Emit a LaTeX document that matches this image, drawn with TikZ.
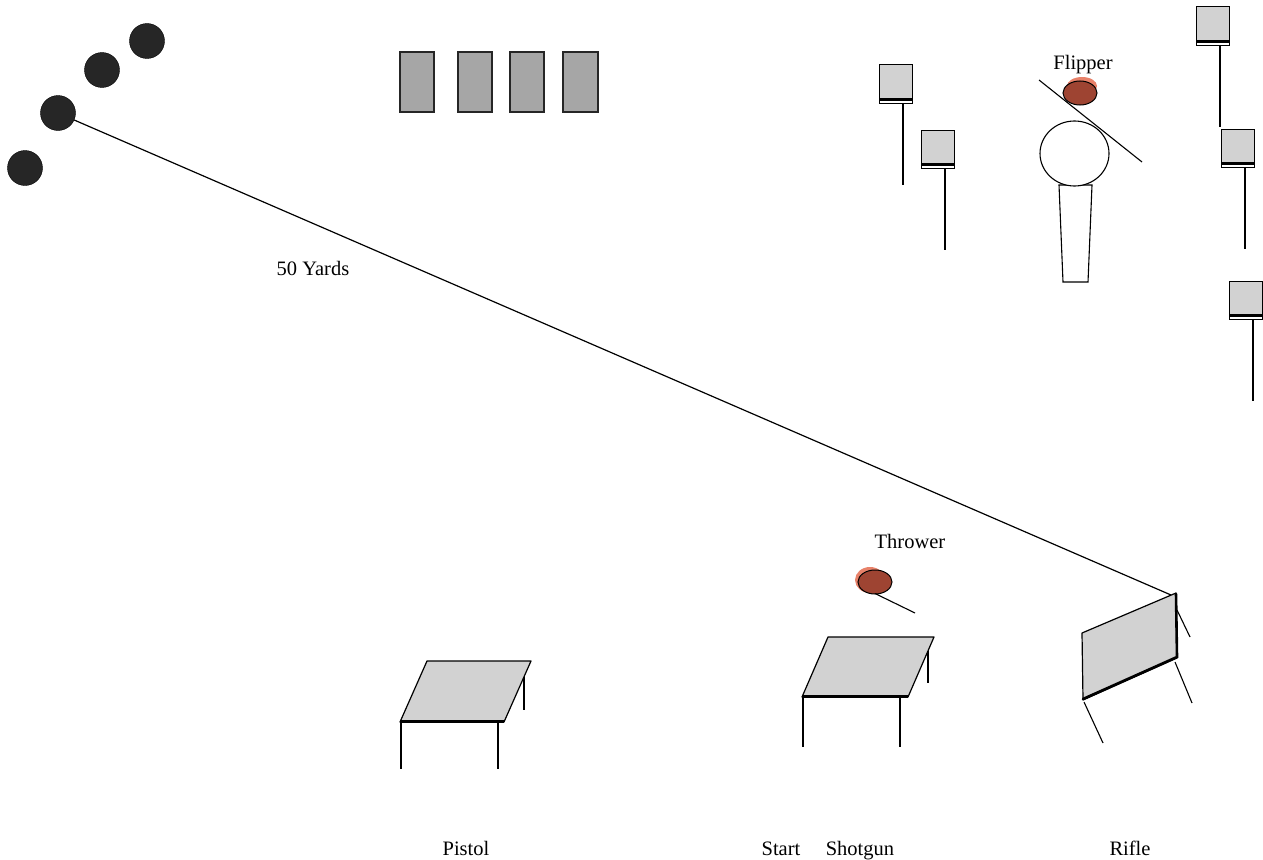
\documentclass[tikz,border=0pt]{standalone}
\usepackage{fontspec}
\setmainfont{Liberation Serif}
\usetikzlibrary{shapes.geometric}
\definecolor{clay}{RGB}{158,68,50}
\definecolor{clayhalo}{RGB}{228,108,80}
\begin{document}
\begin{tikzpicture}[x=1pt,y=-1pt,
  lbl/.style={font=\fontsize{20.5}{24}\selectfont, anchor=base, inner sep=0pt},
  dot/.style={circle, fill=black!85, draw=black, minimum width=34pt, minimum height=35pt, inner sep=0pt},
  panel/.style={fill=gray!70, draw=black!85, line width=1.8pt},
  top/.style={fill=gray!35, draw=black, line width=1.2pt, line join=round},
  leg/.style={draw=black, line width=1.1pt},
  disc/.style={ellipse, fill=clay, draw=black, line width=1pt, minimum width=34pt, minimum height=24pt, inner sep=0pt},
  halo/.style={fill=clayhalo, opacity=0.85},
  pics/target/.style={code={
    \draw[fill=gray!35, line width=1pt] (0,0) rectangle (33,34);
    \draw[line width=0.8pt] (0,34) rectangle (33,38);
    \draw[line width=2.6pt] (0,34.5) -- (33,34.5);
    \draw[line width=2.6pt] (24,38) -- (24,120);
  }}]
\useasboundingbox (0,0) rectangle (1263,859);

% steel plates
\node[dot] (d1) at (147,41) {};
\node[dot] (d2) at (102,70) {};
\node[dot] (d3) at (58,113) {};
\node[dot] (d4) at (25,168) {};

% cardboard targets
\draw[panel] (400,52) rectangle (434,112);
\draw[panel] (458,52) rectangle (492,112);
\draw[panel] (510,52) rectangle (544,112);
\draw[panel] (563,52) rectangle (598,112);

% targets on posts
\pic at (879,65) {target};
\pic at (921,130) {target};
\pic at (1196,7) {target};
\pic at (1221,129) {target};
\pic at (1229,281) {target};

% flipper
\draw[line width=1.1pt] (1059,185) -- (1092,185) -- (1088,282) -- (1063,282) -- cycle;
\draw[fill=white, line width=1.1pt] (1074.5,153.5) ellipse [x radius=34.5, y radius=32.5];
\fill[halo] (1082,86) ellipse [x radius=15, y radius=9];
\node[disc] (fd) at (1080,93) {};
\coordinate (fa) at (1039,80);
\coordinate (fb) at (1142,162);
\draw[line width=1.1pt] (fa) -- (fb);
\node[lbl] (flip) at (1083,70) {Flipper};

% thrower
\fill[halo] (870,580) ellipse [x radius=15, y radius=13];
\node[disc] (td) at (875,582) {};
\coordinate (tl) at (915,613);
\draw[line width=1.1pt] (td.south) ++(0,-1) -- (tl);
\node[lbl] (thr) at (910,548) {Thrower};

% pistol table
\draw[leg] (524,664) -- (524,710);
\draw[top] (427,661) -- (531,661) -- (504,722) -- (400,722) -- cycle;
\draw[line width=2.4pt] (400,721.5) -- (504,721.5);
\draw[leg] (401,722) -- (401,769);
\draw[leg] (498,722) -- (498,769);

% shotgun table
\draw[leg] (928,650) -- (928,683);
\draw[top] (828,637) -- (934,637) -- (908,697) -- (802,697) -- cycle;
\draw[line width=2.4pt] (802,696.5) -- (908,696.5);
\draw[leg] (803,697) -- (803,747);
\draw[leg] (900,697) -- (900,747);

% rifle bench
\draw[leg] (1177,610) -- (1190,637);
\draw[leg] (1175,662) -- (1192,703);
\draw[top] (1082,633) -- (1176,593) -- (1177,658) -- (1083,700) -- cycle;
\draw[line width=2.6pt, line cap=round] (1083,699) -- (1177,657) -- (1176,594);
\draw[leg] (1084,702) -- (1103,743);
\coordinate (rt) at (1171,595);

% range line
\draw[line width=1.2pt] (d3) -- (rt);
\node[lbl] (yd) at (313,275) {50 Yards};

% stations
\node[lbl] (pis) at (466,855) {Pistol};
\node[lbl] (st) at (781,855) {Start};
\node[lbl] (sg) at (860,855) {Shotgun};
\node[lbl] (rf) at (1130,855) {Rifle};
\end{tikzpicture}
\end{document}
